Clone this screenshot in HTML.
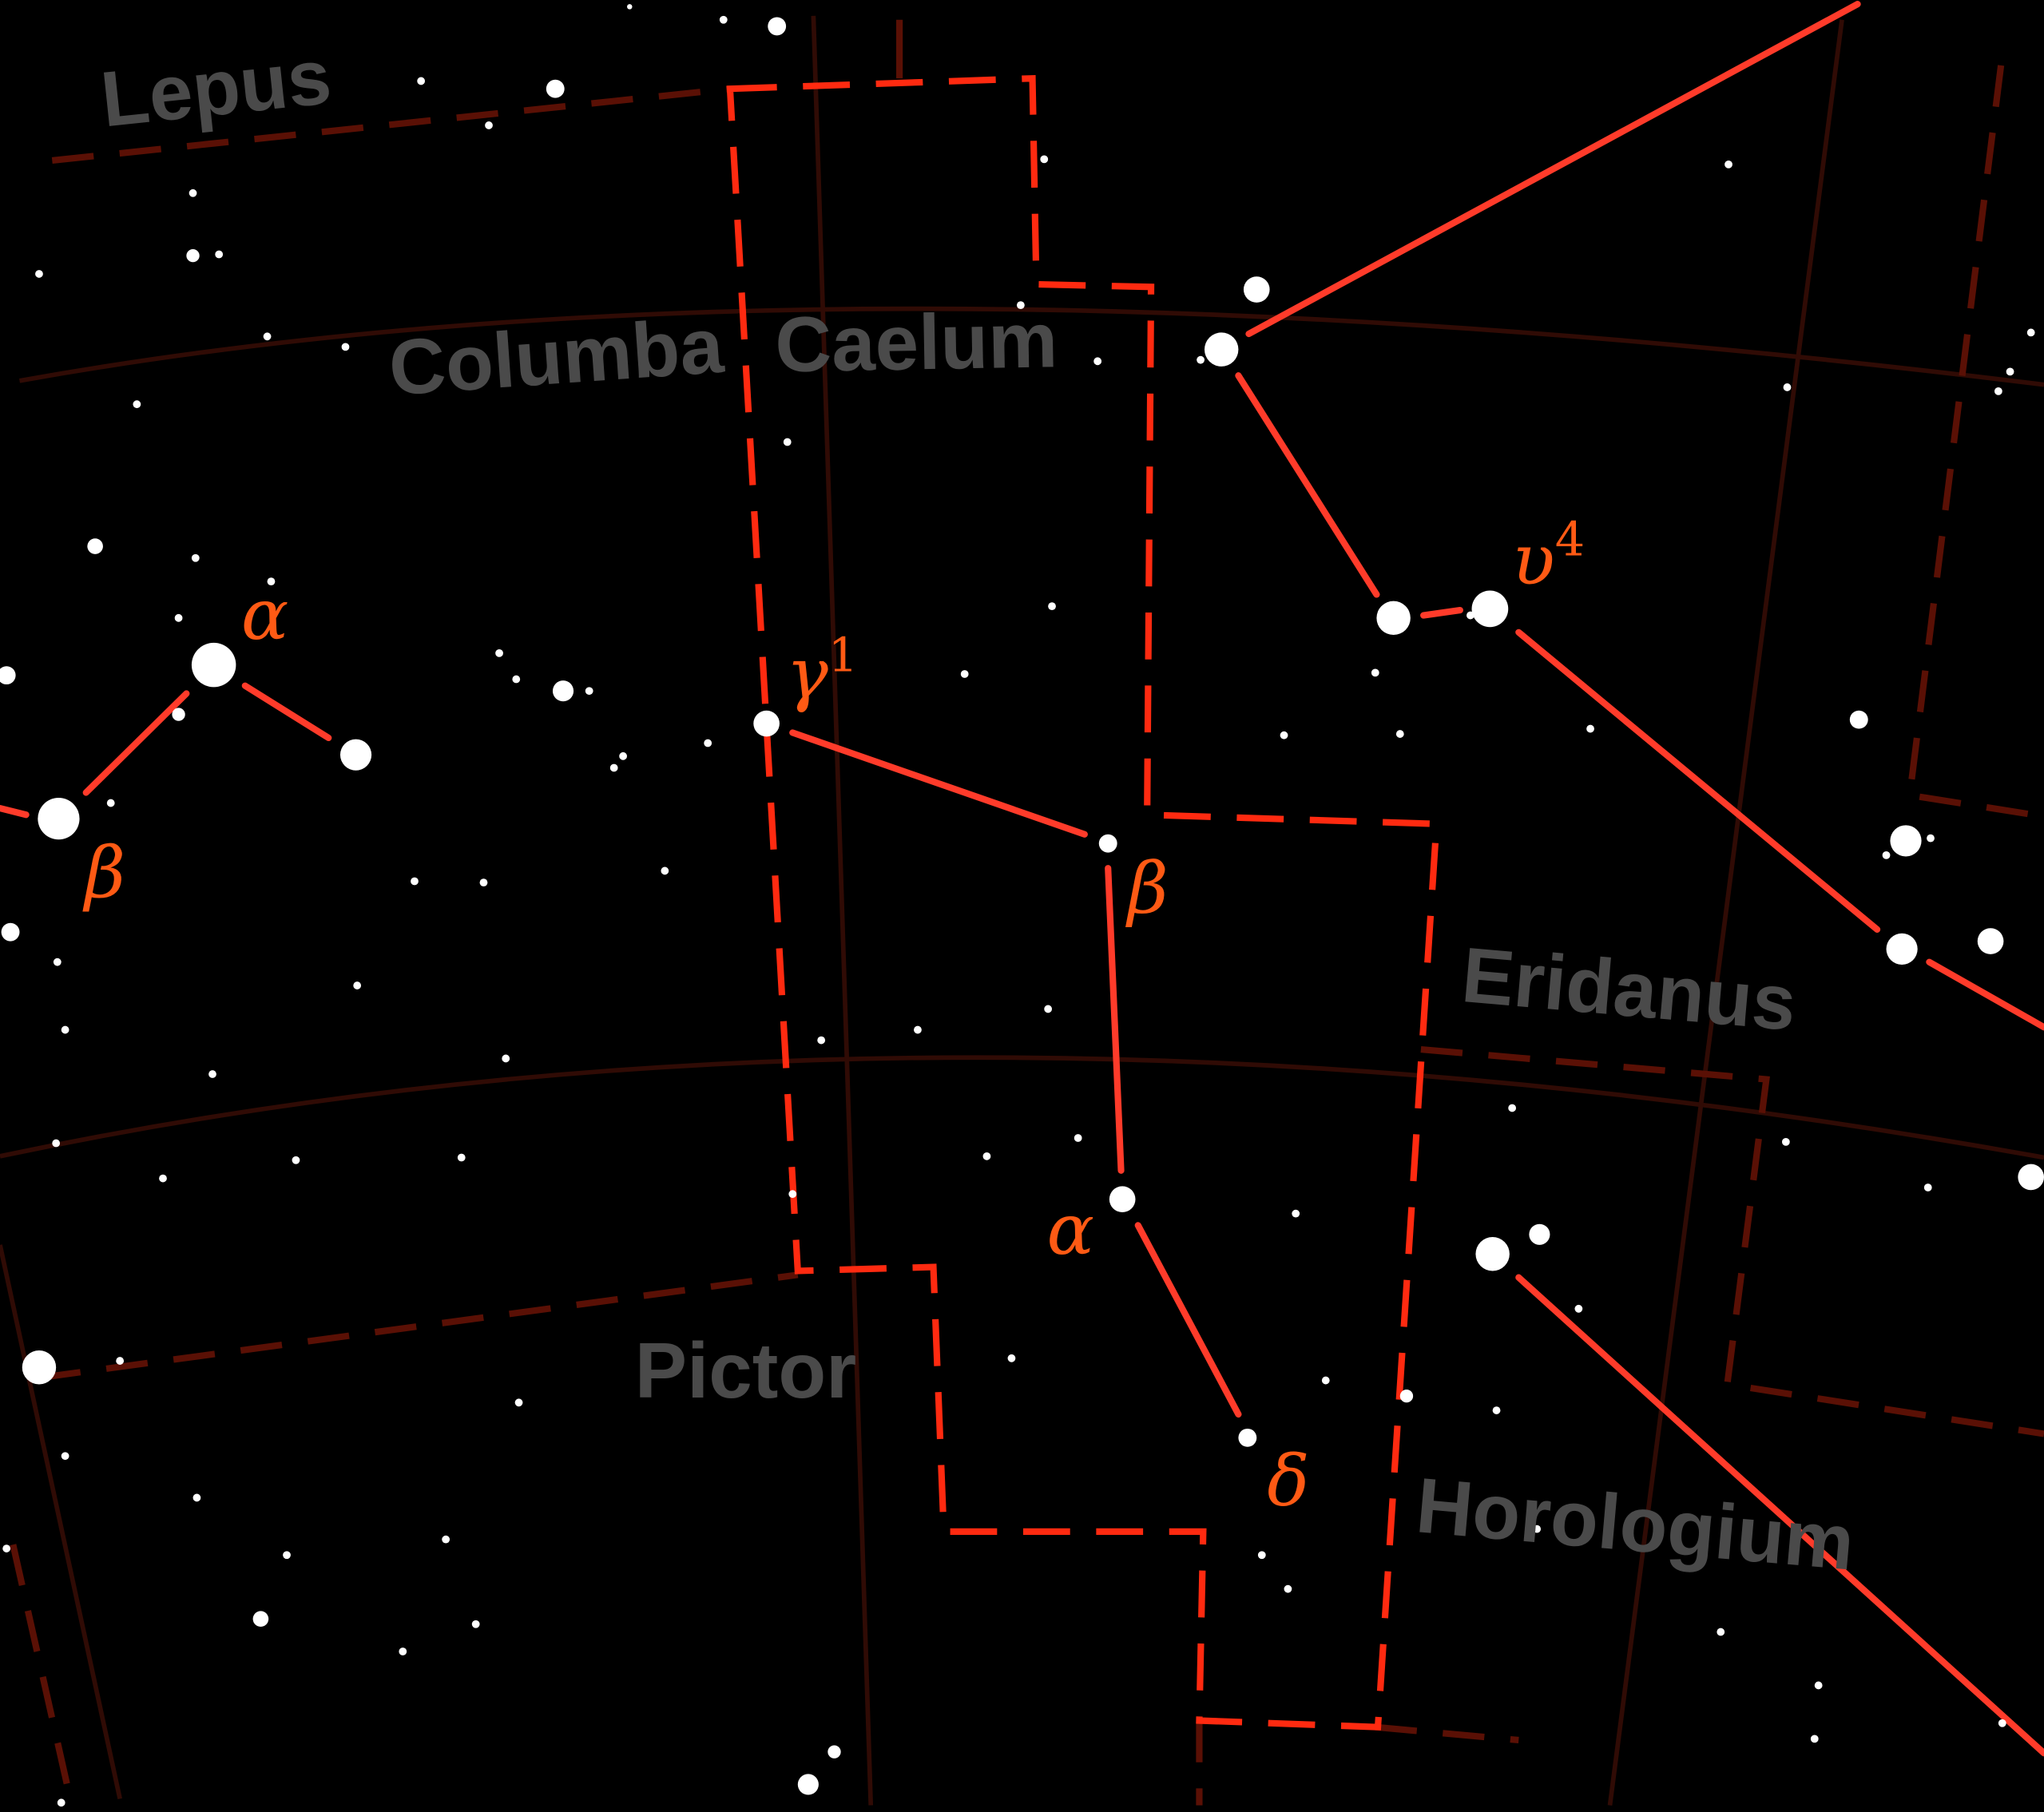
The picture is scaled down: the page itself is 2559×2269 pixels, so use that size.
<!DOCTYPE html>
<html><head><meta charset="utf-8"><style>
html,body{margin:0;padding:0;background:#000;overflow:hidden}
svg{display:block}
.lbl{font-family:"Liberation Sans",sans-serif;font-weight:bold;fill:#4a4a4a;font-size:60px}
.gr{font-family:"DejaVu Serif","Liberation Serif",serif;font-style:italic;fill:#ff5a14;font-size:54px}
</style></head><body>
<svg id="chart" width="2559" height="2269" viewBox="0 0 1568 1390" xmlns="http://www.w3.org/2000/svg">
<rect width="1568" height="1390" fill="#000"/>
<g id="grid" stroke="#300b05" stroke-width="3.5" fill="none">
<path d="M15,292 Q640,180 1568,295"/>
<path d="M0,887 Q720,735 1568,888"/>
<path d="M624,12 L668,1385"/>
<path d="M1413,15 L1235,1385"/>
<path d="M0,955 L92,1380"/>
</g>
<g stroke="#5a1005" stroke-width="5" fill="none" stroke-dasharray="32,20">
<path d="M40,123 L560,68"/>
<path d="M690,15 L690,60" stroke-dasharray="none"/>
<path d="M1535,50 L1465,610 L1560,625"/>
<path d="M1090,805 L1355,828 L1325,1062 L1568,1100"/>
<path d="M30,1057 L612,978"/>
<path d="M1055,1325 L1165,1335"/>
<path d="M920,1320 L920,1385"/>
<path d="M10,1185 L55,1385"/>
</g>
<path d="M560,68 L792,60 L795,218 L883,220 L880,625 L1102,632 L1057,1325 L920,1320 L923,1175 L724,1175 L716,972 L612,975 Z" fill="none" stroke="#ff2a10" stroke-width="5" stroke-dasharray="36,20"/>
<g id="lines" stroke="#ff3b2a" stroke-width="5" stroke-linecap="round"></g>
<g id="stars" fill="#fff"></g>
<g>
<text class="lbl" transform="translate(80,97) rotate(-6)">Lepus</text>
<text class="lbl" transform="translate(300,303) rotate(-4)">Columba</text>
<text class="lbl" transform="translate(595,285) rotate(-1)">Caelum</text>
<text class="lbl" transform="translate(1120,768) rotate(5)">Eridanus</text>
<text class="lbl" transform="translate(1085,1175) rotate(5)">Horologium</text>
<text class="lbl" x="487" y="1072">Pictor</text>
</g>
<g>
<text class="gr" x="185" y="490">α</text>
<text class="gr" x="65" y="688">β</text>
<text class="gr" x="603" y="535">γ<tspan font-style="normal" font-size="36" dy="-20">1</tspan></text>
<text class="gr" x="865" y="700">β</text>
<text class="gr" x="803" y="962">α</text>
<text class="gr" x="972" y="1155">δ</text>
<text class="gr" x="1160" y="448">υ<tspan font-style="normal" font-size="36" dy="-22">4</tspan></text>
</g>
</svg>
<script>
const starX=[596,555,483,426,323,375,148,148,168,30,205,265,105,73,150,208,137,164,137,5,45,85,273,383,396,432,452,478,471,543,588,510,318,371,8,44,274,50,163,388,43,125,227,354,630,704,804,608,757,827,861,994,957,850,807,740,604,801,783,964,937,921,842,1069,1143,1128,1055,985,1074,1220,1326,1371,1533,1542,1558,1426,1462,1481,1447,1459,1527,1160,1370,1479,1558,1145,1181,1211,1079,1017,1148,968,988,1179,1320,1395,1392,1536,776,30,92,398,50,151,220,342,200,365,309,5,640,620,47];
const starY=[20,15,5,68,62,96,148,196,195,210,258,266,310,419,428,446,474,510,548,518,628,616,579,501,521,530,530,580,589,570,555,668,676,677,715,738,756,790,824,812,877,904,890,888,798,790,774,916,887,873,920,931,1103,647,465,517,339,122,234,222,268,276,277,474,467,472,516,564,563,559,126,297,300,285,255,552,645,643,656,728,722,850,876,911,903,962,947,1004,1071,1059,1082,1193,1219,1173,1252,1293,1334,1322,1042,1049,1044,1076,1117,1149,1193,1181,1242,1246,1267,1188,1344,1369,1383];
const starR=[7,3,2,7,3,3,3,5,3,3,3,3,3,6,3,3,3,17,5,7,16,3,12,3,3,8,3,3,3,3,10,3,3,3,7,3,3,3,3,3,3,3,3,3,3,3,3,3,3,3,10,3,7,7,3,3,3,3,3,10,13,3,3,13,14,3,3,3,3,3,3,3,3,3,3,7,12,3,3,12,10,3,3,3,10,13,8,3,5,3,3,3,3,3,3,3,3,3,3,13,3,3,3,3,3,3,6,3,3,3,5,8,3];
const lineX1=[958,950,1092,1165,1480,608,850,873,1165,143,188,0];
const lineY1=[256,288,472,485,738,562,666,940,980,532,526,620];
const lineX2=[1425,1056,1120,1440,1568,832,860,950,1568,66,252,20];
const lineY2=[3,456,468,713,788,640,898,1085,1345,608,566,625];
const NS="http://www.w3.org/2000/svg";
const sg=document.getElementById('stars');
for(let i=0;i<starX.length;i++){
  const c=document.createElementNS(NS,'circle');
  c.setAttribute('cx',starX[i]);c.setAttribute('cy',starY[i]);c.setAttribute('r',starR[i]);
  
  
  sg.appendChild(c);
}
const lg=document.getElementById('lines');
for(let i=0;i<lineX1.length;i++){
  const l=document.createElementNS(NS,'line');
  l.setAttribute('x1',lineX1[i]);l.setAttribute('y1',lineY1[i]);
  l.setAttribute('x2',lineX2[i]);l.setAttribute('y2',lineY2[i]);
  
  
  lg.appendChild(l);
}
</script>
</body></html>
